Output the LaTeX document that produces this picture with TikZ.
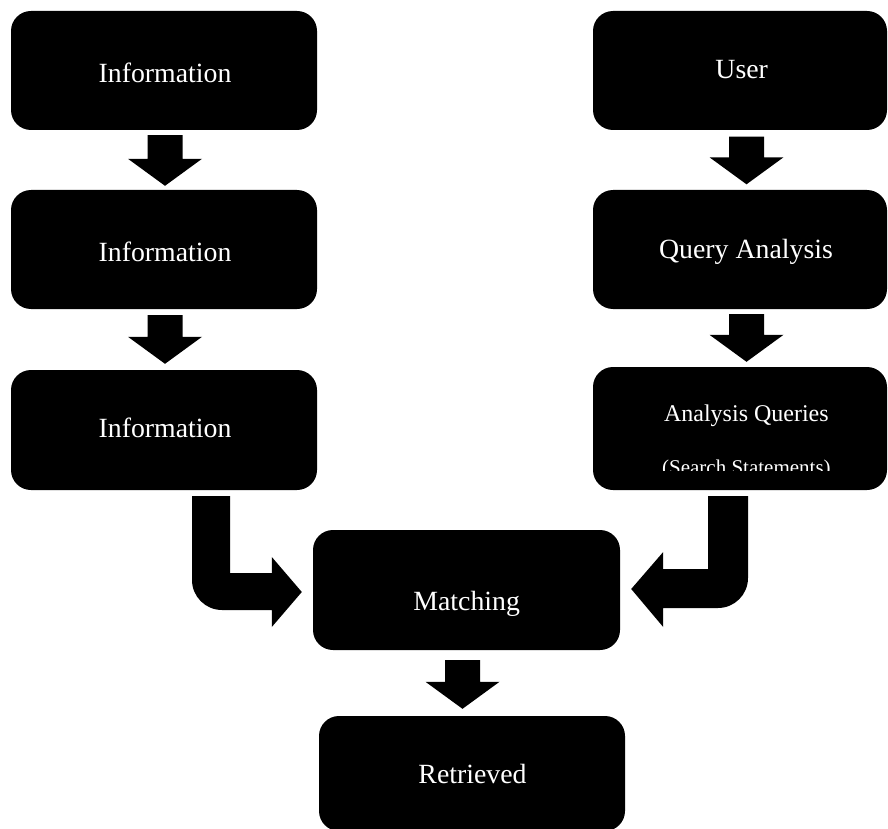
\documentclass[tikz,border=0pt]{standalone}
\usepackage{fontspec}
\setmainfont{Liberation Serif}
\usetikzlibrary{calc}
\tikzset{
  box/.style={fill=black, rounded corners=20pt, inner sep=0pt,
              minimum width=306pt, minimum height=119pt},
  lbl/.style={text=white, anchor=base, inner sep=0pt,
              font=\fontsize{27.8pt}{33pt}\selectfont},
  arrowfill/.style={fill=black},
}
% Block arrow pointing down from node #1 to node #2.
% #3 horizontal offset, #4 gap below #1, #5 gap above #2.
\newcommand\blockdown[5]{%
  \fill[arrowfill] let \p1=(#1.south), \p2=(#2.north) in
    ({\x1+#3-17.5pt},{\y1-#4}) -- ({\x1+#3+17.5pt},{\y1-#4})
    -- ({\x1+#3+17.5pt},{\y2+#5+27pt}) -- ({\x1+#3+37pt},{\y2+#5+27pt})
    -- ({\x1+#3},{\y2+#5})
    -- ({\x1+#3-37pt},{\y2+#5+27pt}) -- ({\x1+#3-17.5pt},{\y2+#5+27pt})
    -- cycle;}
\begin{document}
\begin{tikzpicture}[x=1pt,y=-1pt]
\useasboundingbox (0,0) rectangle (888,829);

% boxes
\node[box] (info1) at (164,70.5) {};
\node[box] (info2) at (164,249.5) {};
\node[box, minimum height=120pt] (info3) at (164,430) {};
\node[box, minimum width=294pt] (user) at (740,70.5) {};
\node[box, minimum width=294pt] (qa) at (740,249.5) {};
\node[box, minimum width=294pt, minimum height=123pt] (aq) at (740,428.5) {};
\node[box, minimum width=307pt, minimum height=120pt] (match) at (466.5,590) {};
\node[box, minimum height=115pt] (retr) at (472,773.5) {};

% labels
\node[lbl] (info1t) at (165,82.7) {Information};
\node[lbl] (info2t) at (165,261.5) {Information};
\node[lbl] (info3t) at (165,437.5) {Information};
\node[lbl] (usert) at (741.7,79) {User};
\node[lbl] (qat) at (746,258) {Query Analysis};
\node[lbl, font=\fontsize{24pt}{28pt}\selectfont] (aqt1) at (746.4,421.7) {Analysis Queries};
\begin{scope}
  \clip (593,367) rectangle (887,470);
  \node[lbl, font=\fontsize{21pt}{25pt}\selectfont] (aqt2) at (746.4,474.5) {(Search Statements)};
\end{scope}
\node[lbl] (matcht) at (466.7,610) {Matching};
\node[lbl] (retrt) at (472.5,783.3) {Retrieved};

% straight block arrows
\blockdown{info1}{info2}{1pt}{5pt}{4pt}
\blockdown{info2}{info3}{1pt}{6pt}{6pt}
\blockdown{user}{qa}{6.5pt}{6.5pt}{5.5pt}
\blockdown{qa}{aq}{6.5pt}{5pt}{5pt}
\blockdown{match}{retr}{-4pt}{10pt}{7pt}

% bent block arrow into the matching box from the left
\fill[arrowfill] let \p1=(info3.south), \p2=(match.west) in
  ({\x1+28pt},{\y1-6pt}) -- ({\x1+28pt},{\y2+10pt})
  arc[start angle=180, end angle=270, radius=30pt]
  -- ({\x2-41pt},{\y2-20pt}) -- ({\x2-41pt},{\y2-37pt})
  -- ({\x2-11pt},{\y2-2pt})
  -- ({\x2-41pt},{\y2+33pt}) -- ({\x2-41pt},{\y2+17pt})
  -- ({\x1+66pt},{\y2+17pt}) -- ({\x1+66pt},{\y1-6pt}) -- cycle;

% bent block arrow into the matching box from the right
\fill[arrowfill] let \p1=(aq.south), \p2=(match.east) in
  ({\x1+8pt},{\y1-6pt}) -- ({\x1+8pt},{\y2+12pt})
  arc[start angle=0, end angle=-90, radius=30pt]
  -- ({\x2+43pt},{\y2-18pt}) -- ({\x2+43pt},{\y2-37pt})
  -- ({\x2+11pt},{\y2+1pt})
  -- ({\x2+43pt},{\y2+38pt}) -- ({\x2+43pt},{\y2+21pt})
  -- ({\x1-32pt},{\y2+21pt}) -- ({\x1-32pt},{\y1-6pt}) -- cycle;
\end{tikzpicture}
\end{document}
